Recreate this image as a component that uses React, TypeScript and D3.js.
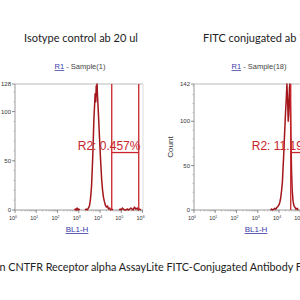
import React from "react";
import * as d3 from "d3";

// log10 of BL1-H channel for each histogram point (null = gap)
const isoLog = [2.8, 2.84, 2.88, 2.92, 2.96, 3.0, 3.04, 3.1,
  3.3, 3.35, 3.4, 3.45, 3.5, 3.55, 3.6, 3.65, 3.68, 3.71, 3.74, 3.77, 3.8, 3.82, 3.84, 3.86, 3.88, 3.9, 3.93, 3.96,
  4.0, 4.04, 4.08, 4.12, 4.16, 4.2, 4.25, 4.3, 4.35, 4.4, 4.45, 4.5, 4.55, 4.6, 4.7,
  4.9, 4.95, 5.0, 5.05, 5.1, 5.15, 5.2, 5.3, 5.35, 5.45, 5.5, 5.55, 5.62, 5.68, 5.75, 5.8, 5.86, 5.92];
const isoCount = [0, 1, 0, 2, 0, 1, 0, null,
  0, 1, 0, 2, 4, 11, 24, 50, 70, 92, 105, 118, 110, 126, 120, 128, 116, 108, 95, 80,
  62, 45, 30, 20, 13, 9, 5, 3, 4, 1, 2, 0, 1, 0, null,
  0, 1, 0, 2, 1, 0, 0, 1, 0, 2, 1, 0, 3, 1, 2, 0, 1, 0];

const fitcLog = [3.6, 3.65, 3.7, 3.76, 3.8, 3.85, 3.9, 3.95, 4.0, 4.04, 4.08, 4.12, 4.16, 4.19, 4.22, 4.25, 4.28,
  4.31, 4.34, 4.37, 4.39, 4.41, 4.43, 4.45, 4.47, 4.49, 4.51, 4.53, 4.56, 4.59, 4.62, 4.66, 4.7, 4.75, 4.8, 4.85, 4.9];
const fitcCount = [0, 1, 0, 1, 2, 1, 3, 4, 6, 9, 14, 22, 32, 48, 62, 80, 96,
  112, 125, 142, 130, 118, 100, 108, 122, 138, 142, 120, 80, 42, 22, 10, 5, 3, 1, 2, 0];

const decades = [0, 1, 2, 3, 4, 5, 6];
const xMax = 1048576;
const gate = [35481, 660693];
const isoTicks = [0, 50, 100, 128];
const fitcTicks = [0, 50, 100, 142];

const red = "#c8242a";
const histRed = "#a3161b";
const blue = "#3a3aa8";
const grey = "#9a9a9a";

const W = 128;
const H = 126;

function Panel(props: {
  x0: number; y0: number; title: string; titleX: number; titleAnchor: string; sample: string;
  logs: number[]; counts: (number | null)[]; yMax: number; yTicks: number[]; r2: string; r2Dx: number;
}) {
  const x = d3.scaleLog().domain([1, xMax]).range([0, W]);
  const y = d3.scaleLinear().domain([0, props.yMax]).range([H, 0]);
  const pts = props.logs.map((l, i) => ({ v: Math.pow(10, l), c: props.counts[i] }));
  const line = d3.line<{ v: number; c: number | null }>()
    .defined(d => d.c !== null)
    .x(d => x(d.v))
    .y(d => y(d.c as number));
  const minorY = d3.range(0, props.yMax, 10);
  const minorX: number[] = [];
  decades.forEach(e => { for (let k = 2; k < 10; k++) { const v = k * Math.pow(10, e); if (v <= xMax) minorX.push(v); } });
  const g0 = x(gate[0]);
  const g1 = x(gate[1]);
  const gy = y(props.yMax * 0.46);
  return (
    <g>
      <text x={props.titleX} y={42} textAnchor={props.titleAnchor} fontFamily="Lato" fontSize={11} fill="#222">{props.title}</text>
      <text x={props.x0 + 65} y={69} textAnchor="middle" fontFamily="Liberation Sans" fontSize={7.5} fill="#444">
        <tspan fill={blue} textDecoration="underline">R1</tspan> - {props.sample}
      </text>
      <g transform={`translate(${props.x0},${props.y0})`}>
        <line x1={0} x2={W} y1={0} y2={0} stroke="#bbb" strokeWidth={1} />
        <line x1={W} x2={W} y1={0} y2={H} stroke="#ddd" strokeWidth={1} />
        <line x1={0} x2={0} y1={0} y2={H} stroke={grey} strokeWidth={1} />
        <line x1={0} x2={W} y1={H} y2={H} stroke={grey} strokeWidth={1} />
        {minorY.map(t => <line key={"my" + t} x1={-1.5} x2={0} y1={y(t)} y2={y(t)} stroke={grey} strokeWidth={0.6} />)}
        {props.yTicks.map(t => (
          <g key={"y" + t}>
            <line x1={-3} x2={0} y1={y(t)} y2={y(t)} stroke="#777" strokeWidth={0.8} />
            <text x={-4} y={y(t) + 2} textAnchor="end" fontFamily="Liberation Sans" fontSize={6} fill="#333">{t}</text>
          </g>
        ))}
        {minorX.map((t, i) => <line key={"mx" + i} x1={x(t)} x2={x(t)} y1={H} y2={H + 1.5} stroke={grey} strokeWidth={0.6} />)}
        {decades.map(e => (
          <g key={"x" + e}>
            <line x1={x(Math.pow(10, e))} x2={x(Math.pow(10, e))} y1={H} y2={H + 3} stroke="#777" strokeWidth={0.8} />
            <text x={x(Math.pow(10, e)) - 2} y={H + 10} textAnchor="middle" fontFamily="Liberation Sans" fontSize={5.5} fill="#333">
              10<tspan dy={-2.5} fontSize={3.5}>{e}</tspan>
            </text>
          </g>
        ))}
        {props.x0 > 20 && (
          <text transform={`translate(-21,${H / 2}) rotate(-90)`} textAnchor="middle" fontFamily="Liberation Sans" fontSize={8} fill="#333">Count</text>
        )}
        <text x={62} y={H + 22} textAnchor="middle" fontFamily="Liberation Sans" fontSize={8} fill={blue} textDecoration="underline">BL1-H</text>
        <path d={line(pts) || ""} fill="none" stroke={histRed} strokeWidth={1.5} strokeLinejoin="round" />
        <line x1={g0} x2={g0} y1={0} y2={H} stroke={red} strokeWidth={1.3} />
        <line x1={g1} x2={g1} y1={0} y2={H} stroke={red} strokeWidth={1.3} />
        <line x1={g0} x2={g1} y1={gy + 0.5} y2={gy + 0.5} stroke={red} strokeWidth={1.3} />
        <text x={g0 + props.r2Dx} y={gy - 2} fontFamily="Liberation Sans" fontSize={12} fill={red}>{props.r2}</text>
      </g>
    </g>
  );
}

export default function App() {
  return (
    <svg width={300} height={300} style={{ position: "absolute", left: 0, top: 0, background: "#fff" }}>
      <rect width={300} height={300} fill="#fff" />
      <Panel x0={15} y0={84} title="Isotype control ab 20 ul" titleX={81} titleAnchor="middle" sample="Sample(1)"
        logs={isoLog} counts={isoCount} yMax={128} yTicks={isoTicks} r2="R2: 0.457%" r2Dx={-34} />
      <Panel x0={194} y0={84} title="FITC conjugated ab 7.5 ul" titleX={203} titleAnchor="start" sample="Sample(18)"
        logs={fitcLog} counts={fitcCount} yMax={142} yTicks={fitcTicks} r2="R2: 11.19%" r2Dx={-39} />
      <text x={-29} y={271} fontFamily="Lato" fontSize={10.8} fill="#222">
        Human CNTFR Receptor alpha AssayLite FITC-Conjugated Antibody Flow Cytometry
      </text>
    </svg>
  );
}
